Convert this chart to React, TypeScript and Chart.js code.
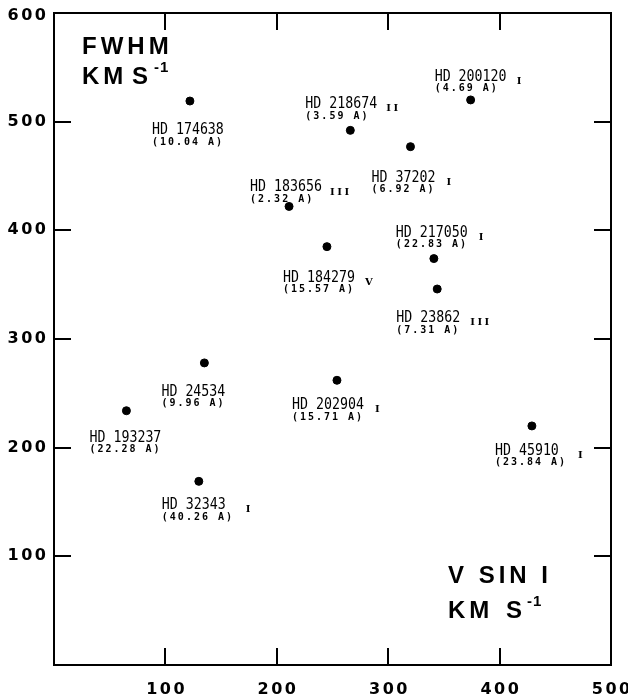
import React, { useEffect, useRef } from "react";
import { Chart, registerables } from "chart.js";

Chart.register(...registerables);

// ---- data ----
const starNames = [
  "HD 174638", "HD 183656", "HD 218674", "HD 37202", "HD 200120",
  "HD 184279", "HD 217050", "HD 23862", "HD 24534", "HD 193237",
  "HD 202904", "HD 45910", "HD 32343",
];
const vsini = [122, 211, 266, 320, 374, 245, 341, 344, 135, 65, 254, 429, 130];
const fwhm = [519, 422, 492, 477, 520, 385, 374, 346, 278, 234, 262, 220, 169];
const eqWidths = [
  "10.04", "2.32", "3.59", "6.92", "4.69", "15.57", "22.83", "7.31",
  "9.96", "22.28", "15.71", "23.84", "40.26",
];
const lumClasses = ["", "III", "II", "I", "I", "V", "I", "III", "", "", "I", "I", "I"];

const xTickValues = [100, 200, 300, 400, 500];
const yTickValues = [100, 200, 300, 400, 500, 600];
const xMin = 0, xMax = 500, yMin = 0, yMax = 600;

// ---- label placement (pixel offsets from each point: text-left dx, baseline dy, class dx) ----
const labelOffsets: [number, number, number][] = [
  [-38, 33, 0], [-39, -15, 80], [-45, -22, 81], [-39, 35, 75], [-36, -19, 82],
  [-44, 35, 82], [-38, -22, 83], [-41, 33, 74], [-43, 33, 0], [-37, 31, 0],
  [-45, 29, 83], [-37, 29, 83], [-37, 28, 84],
];

function spacedText(ctx: any, text: string, x: number, y: number, ls: number, align: "left" | "right" | "center") {
  ctx.letterSpacing = "0px";
  const w0 = ctx.measureText(text).width;
  const total = w0 + ls * (text.length - 1);
  let left = x;
  if (align === "right") left = x - total;
  else if (align === "center") left = x - total / 2;
  ctx.letterSpacing = ls + "px";
  ctx.textAlign = "left";
  ctx.fillText(text, left, y);
  ctx.letterSpacing = "0px";
}

const decorPlugin = {
  id: "paperDecor",
  afterDatasetsDraw(chart: any) {
    const ctx = chart.ctx;
    const a = chart.chartArea;
    const xs = chart.scales.x;
    const ys = chart.scales.y;
    ctx.save();
    ctx.strokeStyle = "#000";
    ctx.fillStyle = "#000";
    ctx.lineWidth = 2;
    ctx.strokeRect(a.left, a.top, a.right - a.left, a.bottom - a.top);

    // inward ticks on all four sides
    const T = 17;
    ctx.beginPath();
    for (const v of xTickValues) {
      if (v <= xs.min || v >= xs.max) continue;
      const px = Math.round(xs.getPixelForValue(v));
      ctx.moveTo(px, a.bottom);
      ctx.lineTo(px, a.bottom - T);
      ctx.moveTo(px, a.top);
      ctx.lineTo(px, a.top + T);
    }
    for (const v of yTickValues) {
      if (v <= ys.min || v >= ys.max) continue;
      const py = Math.round(ys.getPixelForValue(v));
      ctx.moveTo(a.left, py);
      ctx.lineTo(a.left + T, py);
      ctx.moveTo(a.right, py);
      ctx.lineTo(a.right - T, py);
    }
    ctx.stroke();

    // tick labels
    ctx.font = "bold 16px 'DejaVu Sans'";
    ctx.textBaseline = "middle";
    for (const v of yTickValues) {
      const py = ys.getPixelForValue(v);
      spacedText(ctx, String(v), a.left - 8, v === yMax ? py + 3 : py, 2.5, "right");
    }
    for (const v of xTickValues) {
      const px = xs.getPixelForValue(v);
      spacedText(ctx, String(v), px, a.bottom + 25, 2.5, "center");
    }

    // axis titles (drawn inside the frame as in the original)
    ctx.textBaseline = "alphabetic";
    ctx.font = "bold 24px 'Liberation Sans'";
    spacedText(ctx, "FWHM", a.left + 28, a.top + 41, 4, "left");
    spacedText(ctx, "KM", a.left + 28, a.top + 71, 4, "left");
    spacedText(ctx, "S", a.left + 78, a.top + 71, 4, "left");
    spacedText(ctx, "V SIN I", a.left + 394, a.bottom - 82, 4, "left");
    spacedText(ctx, "KM", a.left + 394, a.bottom - 47, 4, "left");
    spacedText(ctx, "S", a.left + 452, a.bottom - 47, 4, "left");
    ctx.font = "bold 15px 'Liberation Sans'";
    spacedText(ctx, "-1", a.left + 100, a.top + 59, 1, "left");
    spacedText(ctx, "-1", a.left + 473, a.bottom - 59, 1, "left");

    // point labels
    const meta = chart.getDatasetMeta(0);
    meta.data.forEach((pt: any, i: number) => {
      const [dx, dy, cdx] = labelOffsets[i];
      const lx = pt.x + dx;
      const by = pt.y + dy;
      ctx.textBaseline = "alphabetic";
      ctx.font = "16px 'DejaVu Sans Mono'";
      ctx.save();
      ctx.translate(lx, by);
      ctx.scale(0.83, 1);
      ctx.textAlign = "left";
      ctx.fillText(starNames[i], 0, 0);
      ctx.restore();
      ctx.font = "bold 10px 'DejaVu Sans Mono'";
      spacedText(ctx, "(" + eqWidths[i] + " A)", lx, by + 10.5, 2, "left");
      if (lumClasses[i]) {
        ctx.font = "bold 10px 'DejaVu Serif'";
        ctx.textBaseline = "middle";
        spacedText(ctx, lumClasses[i], lx + cdx, by + 0.5, 2.5, "left");
      }
    });
    ctx.restore();
  },
};

export default function App() {
  const ref = useRef<HTMLCanvasElement | null>(null);
  useEffect(() => {
    if (!ref.current) return;
    const chart = new Chart(ref.current, {
      type: "scatter",
      data: {
        datasets: [
          {
            data: vsini.map((v, i) => ({ x: v, y: fwhm[i] })),
            backgroundColor: "#000",
            borderColor: "#000",
            pointRadius: 4,
            pointHoverRadius: 4,
            showLine: false,
          },
        ],
      },
      options: {
        responsive: false,
        animation: false,
        events: [],
        layout: { padding: { left: 54, right: 17, top: 13, bottom: 35 } },
        scales: {
          x: { type: "linear", min: xMin, max: xMax, display: false },
          y: { type: "linear", min: yMin, max: yMax, display: false },
        },
        plugins: { legend: { display: false }, tooltip: { enabled: false } },
      },
      plugins: [decorPlugin],
    });
    return () => chart.destroy();
  }, []);
  return (
    <div style={{ position: "fixed", left: 0, top: 0, width: 628, height: 700, background: "#fff" }}>
      <canvas ref={ref} width={628} height={700} style={{ display: "block" }} />
    </div>
  );
}
